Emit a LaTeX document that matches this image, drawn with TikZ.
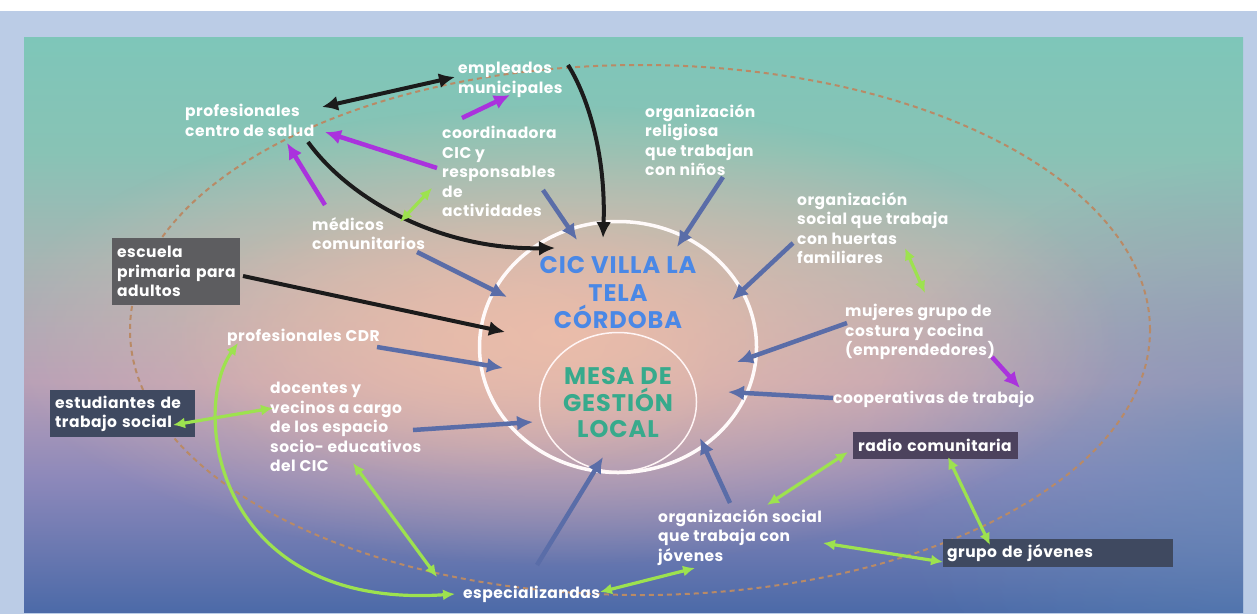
\documentclass[tikz,border=0pt]{standalone}
\usepackage{fontspec}
\setmainfont{Poppins}
\newfontfamily\lblfont[LetterSpace=3]{Poppins}
\newfontfamily\ttlfont[LetterSpace=4]{Poppins}
\usetikzlibrary{arrows.meta,fadings,shapes.geometric}
\definecolor{frameblue}{HTML}{BBCCE6}
\definecolor{ptop}{HTML}{7EC6B9}
\definecolor{ptopb}{HTML}{88C3B5}
\definecolor{pmida}{HTML}{A6B5B4}
\definecolor{pmid}{HTML}{B8A0B7}
\definecolor{plow}{HTML}{8C88BA}
\definecolor{pbot}{HTML}{4C6AA8}
\definecolor{peach}{HTML}{EBBDAA}
\definecolor{sideblue}{HTML}{5E8DBA}
\definecolor{blueArr}{HTML}{5A6DA8}
\definecolor{blk}{HTML}{1B1B1B}
\definecolor{purp}{HTML}{AA33DD}
\definecolor{lime}{HTML}{9DE24F}
\definecolor{dashc}{HTML}{B98A66}
\definecolor{cicblue}{HTML}{4A88E6}
\definecolor{mesagreen}{HTML}{37AA8C}
\definecolor{boxgray}{HTML}{5D5D60}
\definecolor{boxnavy}{HTML}{3F4960}
\pgfdeclareverticalshading{panelshade}{100bp}{color(0bp)=(pbot); color(25bp)=(pbot); color(36.5bp)=(plow); color(45bp)=(pmid); color(55.6bp)=(pmida); color(65bp)=(ptopb); color(75bp)=(ptop); color(100bp)=(ptop)}
\tikzfading[name=softglow, inner color=transparent!0, outer color=transparent!100]
\tikzset{
  lbl/.style={text=white, font=\lblfont\bfseries\fontsize{15.5}{19.5}\selectfont, align=left, anchor=north west, inner sep=0pt},
  dbox/.style={lbl, inner xsep=5pt, inner ysep=0pt},
  barr/.style={draw=blueArr, line width=4.5pt, -{Latex[length=16pt,width=15pt]}},
  karr/.style={draw=blk, line width=4pt, -{Latex[length=16pt,width=15pt]}},
  kdarr/.style={draw=blk, line width=4pt, {Latex[length=16pt,width=15pt]}-{Latex[length=16pt,width=15pt]}},
  parr/.style={draw=purp, line width=4.5pt, -{Latex[length=16pt,width=15pt]}},
  garr/.style={draw=lime, line width=3.2pt, {Latex[length=12pt,width=11pt]}-{Latex[length=12pt,width=11pt]}},
}
\begin{document}
\begin{tikzpicture}[x=1pt,y=-1pt]
\useasboundingbox (0,0) rectangle (1257,614);
% background
\fill[white] (0,0) rectangle (1257,614);
\fill[frameblue] (0,11) rectangle (1257,614);
\shade[shading=panelshade] (24,37) rectangle (1243,612);
\begin{scope}
\clip (24,37) rectangle (1243,612);
\fill[sideblue, path fading=softglow, fill opacity=0.6] (1250,460) ellipse [x radius=380pt, y radius=300pt];
\fill[peach, path fading=softglow, fill opacity=1] (560,335) ellipse [x radius=560pt, y radius=230pt];
\fill[peach, path fading=softglow, fill opacity=0.6] (470,340) ellipse [x radius=300pt, y radius=140pt];
\end{scope}
% dashed ellipse
\draw[dashc, line width=2pt, dash pattern=on 5pt off 4pt] (640,330) ellipse [x radius=510pt, y radius=265pt];
% circles
\node[draw=white!92!pink, line width=3.5pt, ellipse, minimum width=277pt, minimum height=251pt, inner sep=0pt] (cic) at (618,347) {};
\node[draw=white!85!pink, line width=1.5pt, ellipse, minimum width=157pt, minimum height=139pt, inner sep=0pt] (mesa) at (618,402) {};
\node[text=cicblue, font=\ttlfont\bfseries\fontsize{24}{27.5}\selectfont, align=center] (cict) at (618,293) {CIC VILLA LA\\TELA\\CÓRDOBA};
\node[text=mesagreen, font=\ttlfont\bfseries\fontsize{24}{26.5}\selectfont, align=center] (mesat) at (618,403) {MESA DE\\GESTIÓN\\LOCAL};
% labels
\node[lbl] (emp) at (458,62) {empleados\\municipales};
\node[lbl] (prof) at (185,104) {profesionales\\centro de salud};
\node[lbl] (coord) at (442,126) {coordinadora\\CIC y\\responsables\\de\\actividades};
\node[lbl] (relig) at (645,104) {organización\\religiosa\\que trabajan\\con niños};
\node[lbl] (huert) at (797,192) {organización\\social que trabaja\\con huertas\\familiares};
\node[lbl] (medic) at (312,217) {médicos\\comunitarios};
\node[dbox, fill=boxgray, text width=118pt, minimum height=67pt] (escu) at (112,238) {\mbox{escuela}\\\mbox{primaria para}\\\mbox{adultos}};
\node[lbl] (muj) at (845,304) {mujeres grupo de\\costura y cocina\\(emprendedores)};
\node[lbl] (coop) at (833,391) {cooperativas de trabajo};
\node[lbl] (cdr) at (227,329) {profesionales CDR};
\node[lbl] (doc) at (270,382) {docentes y\\vecinos a cargo\\de los espacio\\socio- educativos\\del CIC};
\node[dbox, fill=boxnavy, text width=135pt, minimum height=47pt] (estu) at (50,390) {\mbox{estudiantes de}\\\mbox{trabajo social}};
\node[dbox, fill=boxnavy!90!purple, text width=155pt, minimum height=27pt] (radio) at (853,432) {\mbox{radio comunitaria}};
\node[dbox, fill=boxnavy, text width=222pt, inner xsep=4pt, minimum height=28pt] (grupo) at (943,539) {\mbox{grupo de jóvenes}};
\node[lbl] (joven) at (658,509) {organización social\\que trabaja con\\jóvenes};
\node[lbl] (espec) at (463,586) {especializandas};
% connector end points
\coordinate (k1a) at (322,107); \coordinate (k1b) at (455,77);
\coordinate (k2a) at (568,65);  \coordinate (k2b) at (603,238);
\coordinate (k3a) at (308,142); \coordinate (k3b) at (555,248);
\coordinate (k4a) at (243,276); \coordinate (k4b) at (505,332);
\coordinate (p1a) at (462,118); \coordinate (p1b) at (510,95);
\coordinate (p2a) at (437,168); \coordinate (p2b) at (325,132);
\coordinate (p3a) at (325,205); \coordinate (p3b) at (287,143);
\coordinate (p4a) at (992,357); \coordinate (p4b) at (1020,388);
\coordinate (b1a) at (543,190); \coordinate (b1b) at (577,240);
\coordinate (b2a) at (723,177); \coordinate (b2b) at (677,247);
\coordinate (b3a) at (793,243); \coordinate (b3b) at (732,300);
\coordinate (b4a) at (417,252); \coordinate (b4b) at (507,297);
\coordinate (b5a) at (377,347); \coordinate (b5b) at (503,368);
\coordinate (b6a) at (413,430); \coordinate (b6b) at (533,422);
\coordinate (b7a) at (847,323); \coordinate (b7b) at (737,362);
\coordinate (b8a) at (833,398); \coordinate (b8b) at (728,392);
\coordinate (b9a) at (537,565); \coordinate (b9b) at (603,457);
\coordinate (b10a) at (730,503); \coordinate (b10b) at (700,438);
\coordinate (g1a) at (400,222); \coordinate (g1b) at (432,188);
\coordinate (g2a) at (905,248); \coordinate (g2b) at (925,293);
\coordinate (g3a) at (173,425); \coordinate (g3b) at (273,408);
\coordinate (g4a) at (238,343); \coordinate (g4b) at (455,594);
\coordinate (g5a) at (353,463); \coordinate (g5b) at (437,577);
\coordinate (g6a) at (600,592); \coordinate (g6b) at (695,568);
\coordinate (g7a) at (767,505); \coordinate (g7b) at (848,452);
\coordinate (g8a) at (823,543); \coordinate (g8b) at (943,562);
\coordinate (g9a) at (948,457); \coordinate (g9b) at (990,545);
% blue arrows
\foreach \i in {1,...,10} {\draw[barr] (b\i a) -- (b\i b);}
% black
\draw[kdarr] (k1a) -- (k1b);
\draw[karr] (k2a) .. controls (590,100) and (606,160) .. (k2b);
\draw[karr] (k3a) .. controls (350,200) and (440,250) .. (k3b);
\draw[karr] (k4a) -- (k4b);
% purple
\foreach \i in {1,...,4} {\draw[parr] (p\i a) -- (p\i b);}
% green
\draw[garr] (g1a) -- (g1b);
\draw[garr] (g2a) -- (g2b);
\draw[garr] (g3a) -- (g3b);
\draw[garr] (g4a) .. controls (190,410) and (215,610) .. (g4b);
\draw[garr] (g5a) -- (g5b);
\draw[garr] (g6a) -- (g6b);
\draw[garr] (g7a) -- (g7b);
\draw[garr] (g8a) -- (g8b);
\draw[garr] (g9a) -- (g9b);
\end{tikzpicture}
\end{document}
